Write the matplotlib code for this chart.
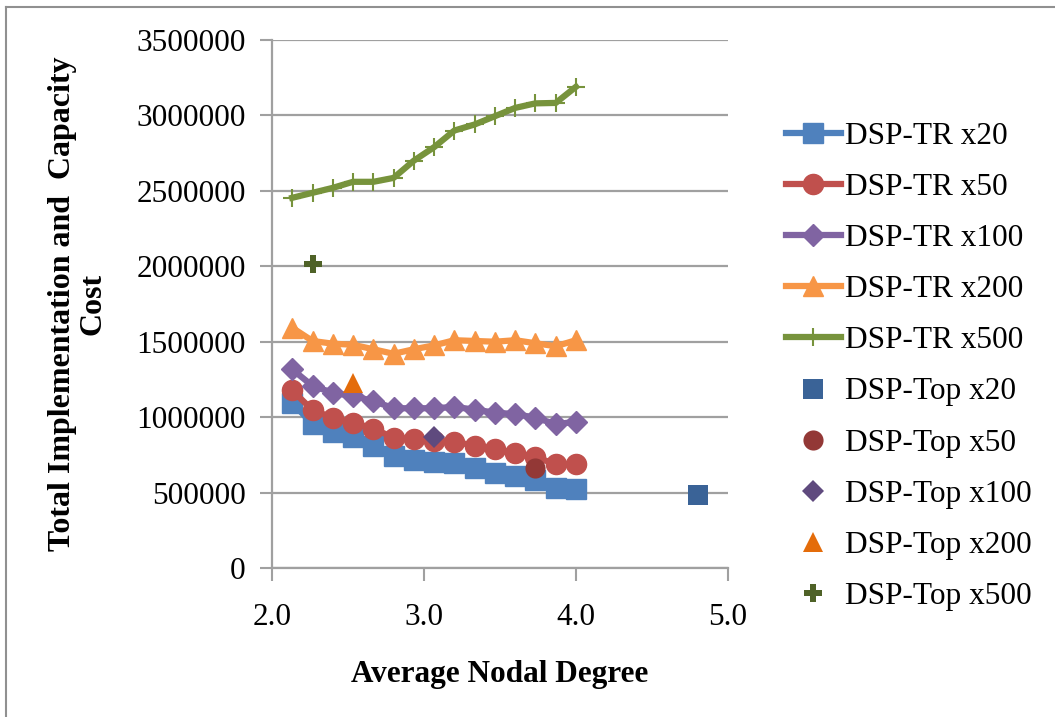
import matplotlib
matplotlib.use("Agg")
import matplotlib.pyplot as plt
from matplotlib.lines import Line2D

plt.rcParams['font.family'] = ['Liberation Serif', 'DejaVu Serif']

# average nodal degree for the DSP-TR runs
degree = [2.133, 2.267, 2.4, 2.533, 2.667, 2.8, 2.933, 3.067, 3.2, 3.333, 3.467, 3.6, 3.733, 3.867, 4.0]

tr_x20 = [1096000, 953000, 904000, 869000, 810000, 743000, 715000, 705000, 699000, 666000, 633000, 610000, 582000, 529000, 523000]
tr_x50 = [1178000, 1046000, 997000, 964000, 924000, 864000, 854000, 840000, 838000, 810000, 787000, 765000, 736000, 688000, 688000]
tr_x100 = [1317000, 1207000, 1162000, 1140000, 1107000, 1059000, 1059000, 1059000, 1068000, 1050000, 1030000, 1020000, 997000, 953000, 970000]
tr_x200 = [1593000, 1505000, 1487000, 1480000, 1450000, 1420000, 1450000, 1476000, 1510000, 1505000, 1500000, 1510000, 1490000, 1470000, 1510000]
tr_x500 = [2454000, 2487000, 2520000, 2560000, 2560000, 2586000, 2700000, 2790000, 2900000, 2940000, 2995000, 3050000, 3080000, 3083000, 3190000]

# single DSP-Top results (degree, cost)
top_x20 = (4.8, 483000)
top_x50 = (3.733, 663000)
top_x100 = (3.067, 869000)
top_x200 = (2.533, 1227000)
top_x500 = (2.267, 2016000)

tr_series = [("DSP-TR x20", tr_x20, '#4F81BD', 's', 14),
             ("DSP-TR x50", tr_x50, '#C0504D', 'o', 14.5),
             ("DSP-TR x100", tr_x100, '#8064A2', 'D', 11),
             ("DSP-TR x200", tr_x200, '#F79646', '^', 15)]
top_series = [("DSP-Top x20", top_x20, '#3A6397', 's', 14),
              ("DSP-Top x50", top_x50, '#933836', 'o', 14.5),
              ("DSP-Top x100", top_x100, '#5F4A7E', 'D', 11),
              ("DSP-Top x200", top_x200, '#E46C0A', '^', 15),
              ("DSP-Top x500", top_x500, '#4F6228', 'P', 13)]

fig = plt.figure(figsize=(10.55, 7.17), dpi=100)
ax = fig.add_axes([0.2578, 0.2078, 0.4322, 0.7364])

for name, vals, col, mk, ms in tr_series:
    ax.plot(degree, vals, color=col, lw=4.5, marker=mk, ms=ms, mec=col, label=name, zorder=3)
ax.plot(degree, tr_x500, color='#77933C', lw=4.5, marker='+', ms=13, mew=1.5, label="DSP-TR x500", zorder=3)

for name, (px, py), col, mk, ms in top_series:
    ax.plot([px], [py], ls='none', color=col, marker=mk, ms=ms, mec=col, mew=0, label=name, zorder=4)

ax.set_xlim(2.0, 5.0)
ax.set_ylim(0, 3500000)
ax.set_xticks([2.0, 3.0, 4.0, 5.0])
ax.set_yticks(range(0, 3500001, 500000))
ax.xaxis.set_major_formatter(matplotlib.ticker.StrMethodFormatter('{x:.1f}'))
ax.yaxis.set_major_formatter(matplotlib.ticker.StrMethodFormatter('{x:.0f}'))
ax.tick_params(labelsize=22.5, color='#A0A0A0', width=1.5, length=9, direction='out')
ax.tick_params(axis='y', pad=10)
ax.tick_params(axis='x', pad=16)
ax.grid(axis='y', color='#A0A0A0', lw=1.6)
ax.set_axisbelow(True)
for s in ['top', 'right']:
    ax.spines[s].set_visible(False)
for s in ['left', 'bottom']:
    ax.spines[s].set_color('#A0A0A0')
    ax.spines[s].set_linewidth(1.6)

ax.set_xlabel("Average Nodal Degree", fontsize=22.5, fontweight='bold')
ax.xaxis.set_label_coords(0.5, -0.175)
ax.set_ylabel("Total Implementation and  Capacity\nCost", fontsize=23, fontweight='bold',
              va='center', linespacing=1.1)
ax.yaxis.set_label_coords(-0.426, 0.5)

fig.legend(loc='center left', bbox_to_anchor=(0.745, 0.489), frameon=False, fontsize=22.5,
           handlelength=1.75, handletextpad=0.15, labelspacing=0.71, borderpad=0, borderaxespad=0)

# outer chart border (left and top edges only visible)
fig.add_artist(Line2D([6 / 1055, 6 / 1055], [0, 1 - 7 / 717], color='#909090', lw=1.5))
fig.add_artist(Line2D([6 / 1055, 1], [1 - 7 / 717, 1 - 7 / 717], color='#909090', lw=1.5))

fig.savefig("out.png", dpi=100)
